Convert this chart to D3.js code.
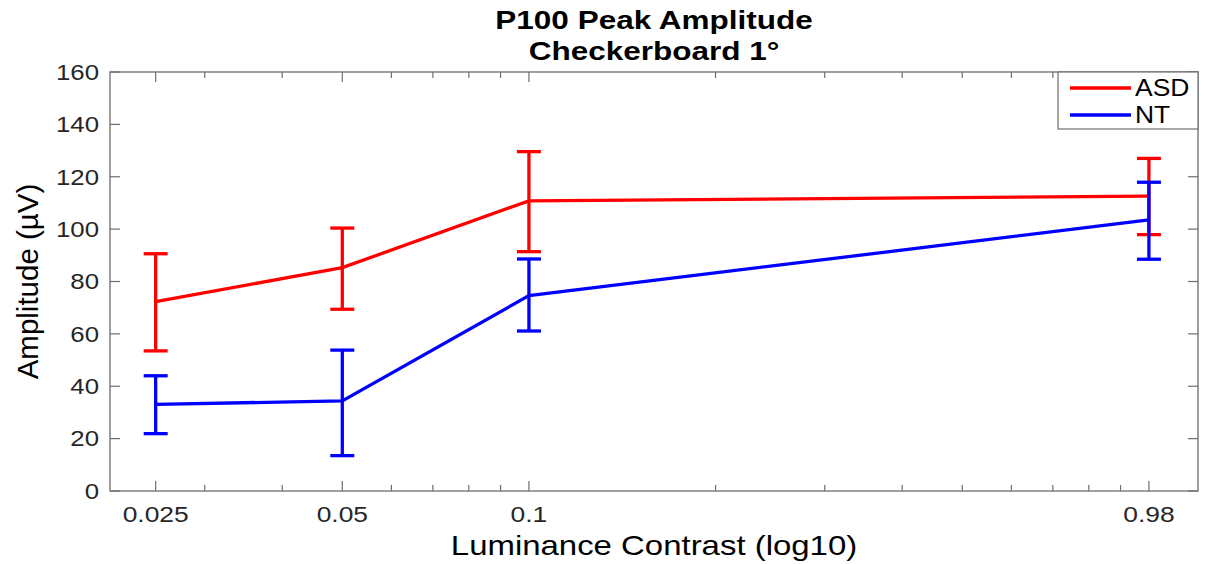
<!DOCTYPE html>
<html>
<head>
<meta charset="utf-8">
<script src="https://cdn.jsdelivr.net/npm/d3@7"></script>
<style>
  body { margin: 0; background: #fff; }
  text { font-family: "Liberation Sans", Arial, sans-serif; }
</style>
</head>
<body>
<script>
// contrast levels (log axis) and the labels printed under them
var contrast = [0.025, 0.05, 0.1, 1.0];
var contrastLabels = ["0.025", "0.05", "0.1", "0.98"];
var minorTicks = [0.03, 0.04, 0.06, 0.07, 0.08, 0.09, 0.2, 0.3, 0.4, 0.5, 0.6, 0.7, 0.8, 0.9];
var yTicks = [0, 20, 40, 60, 80, 100, 120, 140, 160];

// mean amplitude and error bar ends, per group
var asdMean = [72.3, 85.3, 110.8, 112.6];
var asdLow  = [53.5, 69.4, 91.4, 97.9];
var asdHigh = [90.6, 100.4, 129.6, 127.0];

var ntMean = [33.1, 34.4, 74.6, 103.5];
var ntLow  = [21.9, 13.5, 61.1, 88.5];
var ntHigh = [44.0, 53.8, 88.6, 117.9];

var series = [
  {name: "ASD", color: "#ff0000", mean: asdMean, low: asdLow, high: asdHigh},
  {name: "NT", color: "#0000ff", mean: ntMean, low: ntLow, high: ntHigh}
];

var W = 1206, H = 564;
var margin = {top: 72, right: 8, bottom: 73, left: 110};
var width = W - margin.left - margin.right,
    height = H - margin.top - margin.bottom;

var svg = d3.select("body").append("svg")
    .attr("width", W)
    .attr("height", H);

var g = svg.append("g")
    .attr("transform", "translate(" + margin.left + "," + margin.top + ")");

var x = d3.scaleLog().domain([0.0211, 1.2]).range([0, width]);
var y = d3.scaleLinear().domain([0, 160]).range([height, 0]);

var axisColor = "#6e6e6e", labelColor = "#262626";

// the source picture is a bit wider than tall, so text is widened to match
function place(sel, px, py, sx) {
  return sel.attr("transform", "translate(" + px + "," + py + ") scale(" + sx + ",1)");
}

// box
g.append("rect")
    .attr("width", width).attr("height", height)
    .attr("fill", "none").attr("stroke", axisColor).attr("stroke-width", 1.3);

// x ticks, bottom and top
function xTicks(vals, len) {
  vals.forEach(function(v) {
    g.append("line").attr("x1", x(v)).attr("x2", x(v))
      .attr("y1", height).attr("y2", height - len)
      .attr("stroke", axisColor).attr("stroke-width", 1.2);
    g.append("line").attr("x1", x(v)).attr("x2", x(v))
      .attr("y1", 0).attr("y2", len)
      .attr("stroke", axisColor).attr("stroke-width", 1.2);
  });
}
xTicks(contrast, 10);
xTicks(minorTicks, 6);

contrast.forEach(function(c, i) {
  place(g.append("text"), x(c), height + 31, 1.2)
    .attr("text-anchor", "middle")
    .attr("font-size", 22)
    .attr("fill", labelColor)
    .text(contrastLabels[i]);
});

// y ticks, left and right
yTicks.forEach(function(v) {
  g.append("line").attr("x1", 0).attr("x2", 10)
    .attr("y1", y(v)).attr("y2", y(v))
    .attr("stroke", axisColor).attr("stroke-width", 1.2);
  g.append("line").attr("x1", width).attr("x2", width - 10)
    .attr("y1", y(v)).attr("y2", y(v))
    .attr("stroke", axisColor).attr("stroke-width", 1.2);
  place(g.append("text"), -11, y(v), 1.2)
    .attr("dy", "0.36em")
    .attr("text-anchor", "end")
    .attr("font-size", 21.5)
    .attr("fill", labelColor)
    .text(v);
});

// lines and error bars
var line = d3.line()
    .x(function(d) { return x(d.c); })
    .y(function(d) { return y(d.m); });

series.forEach(function(s) {
  var pts = contrast.map(function(c, i) {
    return {c: c, m: s.mean[i], lo: s.low[i], hi: s.high[i]};
  });
  var eb = g.append("g").attr("stroke", s.color).attr("stroke-width", 3.3).attr("fill", "none");
  pts.forEach(function(p) {
    eb.append("line").attr("x1", x(p.c)).attr("x2", x(p.c))
      .attr("y1", y(p.lo)).attr("y2", y(p.hi));
    eb.append("line").attr("x1", x(p.c) - 12).attr("x2", x(p.c) + 12)
      .attr("y1", y(p.lo)).attr("y2", y(p.lo));
    eb.append("line").attr("x1", x(p.c) - 12).attr("x2", x(p.c) + 12)
      .attr("y1", y(p.hi)).attr("y2", y(p.hi));
  });
  g.append("path")
      .datum(pts)
      .attr("d", line)
      .attr("fill", "none")
      .attr("stroke", s.color)
      .attr("stroke-width", 3.3);
});

// legend
var lg = g.append("g").attr("transform", "translate(" + (width - 140) + ",0)");
lg.append("rect").attr("width", 140).attr("height", 57)
    .attr("fill", "#fff").attr("stroke", axisColor).attr("stroke-width", 1.2);
series.forEach(function(s, i) {
  var ly = 16 + i * 27;
  lg.append("line").attr("x1", 12).attr("x2", 73)
    .attr("y1", ly).attr("y2", ly)
    .attr("stroke", s.color).attr("stroke-width", 3.3);
  place(lg.append("text"), 77, ly, 1.15)
    .attr("dy", "0.36em")
    .attr("font-size", 23).attr("fill", "#000").text(s.name);
});

// titles
place(svg.append("text"), margin.left + width / 2, 29, 1.26)
    .attr("text-anchor", "middle")
    .attr("font-size", 25).attr("font-weight", "bold")
    .text("P100 Peak Amplitude");
place(svg.append("text"), margin.left + width / 2, 60, 1.26)
    .attr("text-anchor", "middle")
    .attr("font-size", 25).attr("font-weight", "bold")
    .text("Checkerboard 1°");

place(svg.append("text"), margin.left + width / 2, 555, 1.22)
    .attr("text-anchor", "middle")
    .attr("font-size", 27)
    .text("Luminance Contrast (log10)");

svg.append("text")
    .attr("transform", "translate(38," + (margin.top + height / 2) + ") rotate(-90)")
    .attr("text-anchor", "middle")
    .attr("font-size", 29.5)
    .text("Amplitude (µV)");
</script>
</body>
</html>
